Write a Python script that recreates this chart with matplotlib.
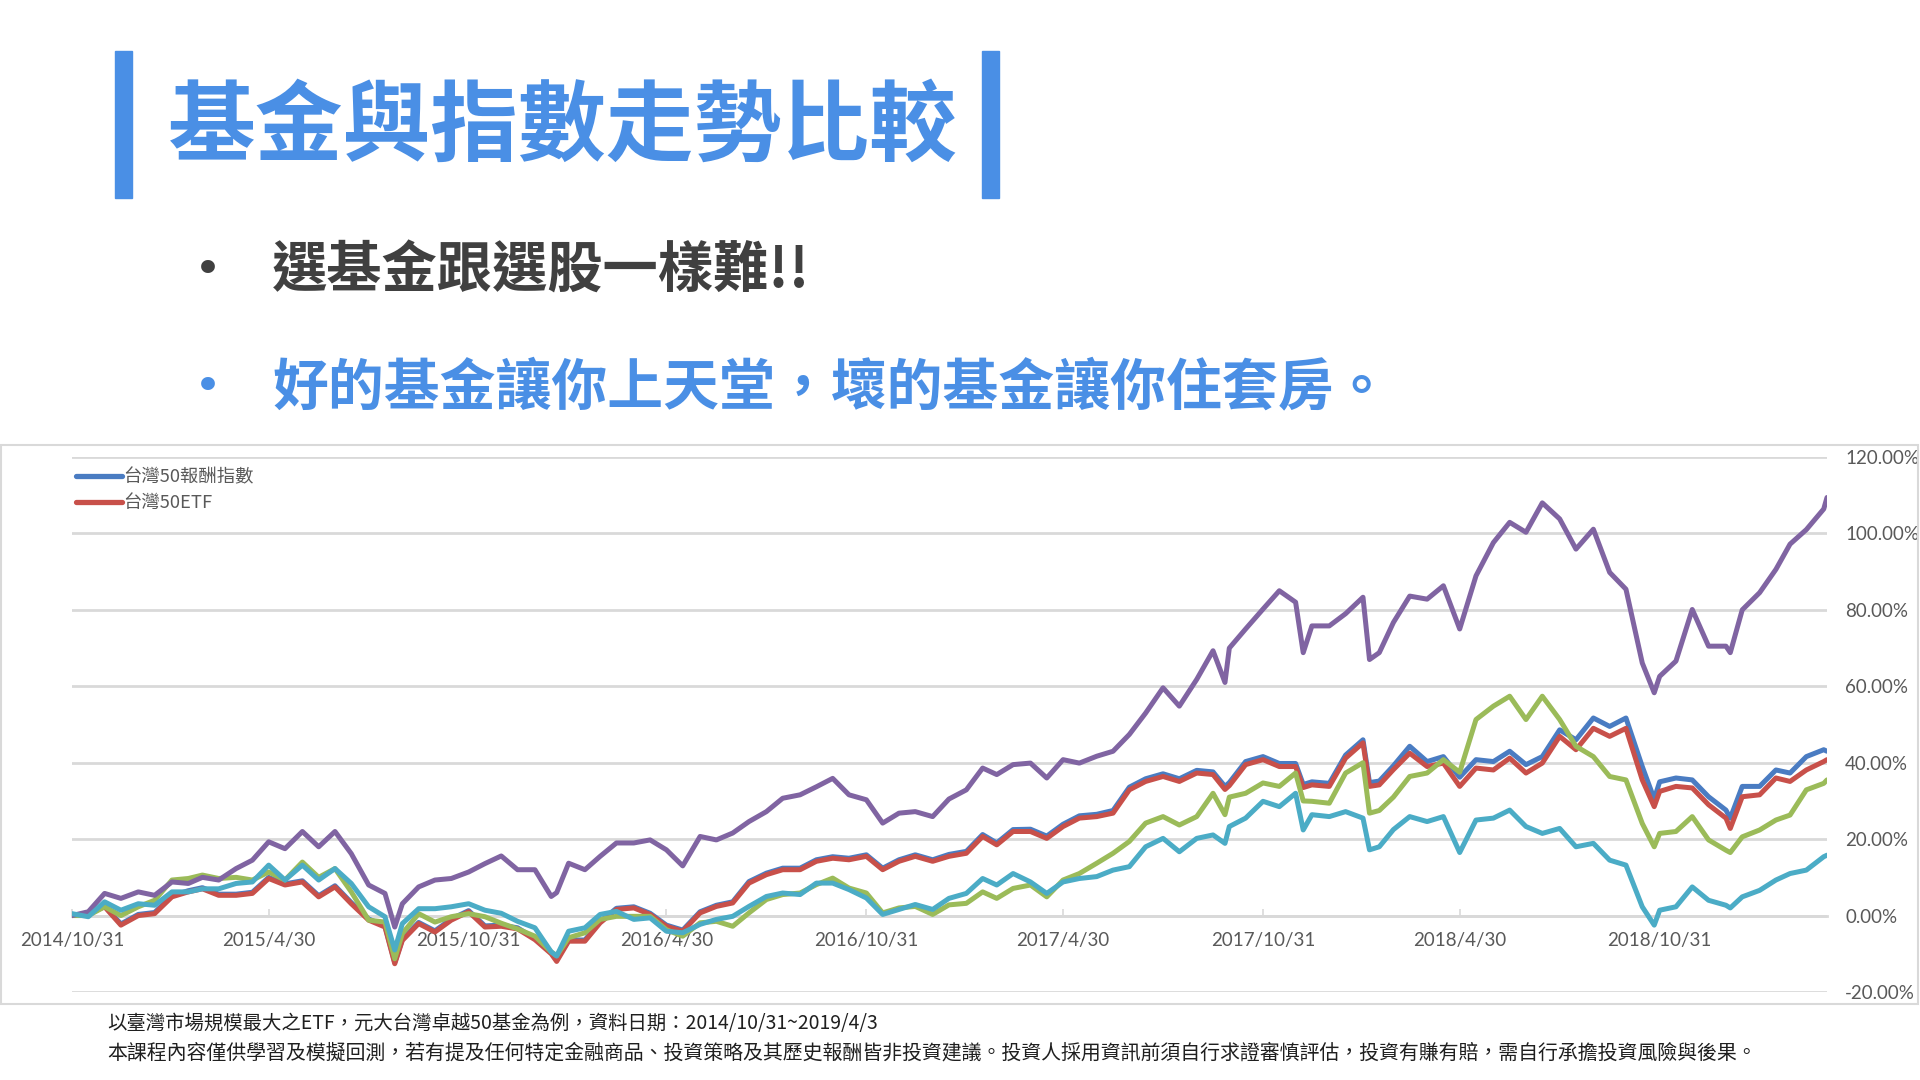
import matplotlib
matplotlib.use("Agg")
import matplotlib.pyplot as plt
from matplotlib.patches import Rectangle
from matplotlib.ticker import FuncFormatter
import pandas as pd

plt.rcParams['font.family'] = ['Noto Sans CJK TC', 'DejaVu Sans']

# ---- data: cumulative return (%) since 2014/10/31 ----
dates = [
    "2014-10-31", "2014-11-15", "2014-11-30", "2014-12-15", "2014-12-31",
    "2015-01-15", "2015-01-31", "2015-02-15", "2015-02-28", "2015-03-15", "2015-03-31",
    "2015-04-15", "2015-04-30", "2015-05-15", "2015-05-31", "2015-06-15", "2015-06-30",
    "2015-07-15", "2015-07-31", "2015-08-15", "2015-08-24", "2015-08-31", "2015-09-15", "2015-09-30",
    "2015-10-15", "2015-10-31", "2015-11-15", "2015-11-30", "2015-12-15", "2015-12-31",
    "2016-01-15", "2016-01-20", "2016-01-31", "2016-02-15", "2016-02-29", "2016-03-15", "2016-03-31",
    "2016-04-15", "2016-04-30", "2016-05-15", "2016-05-31", "2016-06-15", "2016-06-30",
    "2016-07-15", "2016-07-31", "2016-08-15", "2016-08-31", "2016-09-15", "2016-09-30",
    "2016-10-15", "2016-10-31", "2016-11-15", "2016-11-30", "2016-12-15", "2016-12-31",
    "2017-01-15", "2017-01-31", "2017-02-15", "2017-02-28", "2017-03-15", "2017-03-31",
    "2017-04-15", "2017-04-30", "2017-05-15", "2017-05-31", "2017-06-15", "2017-06-30",
    "2017-07-15", "2017-07-31", "2017-08-15", "2017-08-31", "2017-09-15", "2017-09-26", "2017-09-30",
    "2017-10-15", "2017-10-31", "2017-11-15", "2017-11-30", "2017-12-07", "2017-12-15", "2017-12-31",
    "2018-01-15", "2018-01-31", "2018-02-06", "2018-02-15", "2018-02-28", "2018-03-15", "2018-03-31",
    "2018-04-15", "2018-04-30", "2018-05-15", "2018-05-31", "2018-06-15", "2018-06-30",
    "2018-07-15", "2018-07-31", "2018-08-15", "2018-08-31", "2018-09-15", "2018-09-30",
    "2018-10-15", "2018-10-26", "2018-10-31", "2018-11-15", "2018-11-30", "2018-12-15", "2018-12-31",
    "2019-01-04", "2019-01-15", "2019-01-31", "2019-02-15", "2019-02-28", "2019-03-15", "2019-03-31", "2019-04-03",
]

tw50_index = [
    0, 0.6, 2.5, -2.2, 0.3,
    0.8, 5.2, 6.5, 7.3, 5.6, 5.6,
    6.1, 10, 8.3, 9.1, 5.2, 7.8,
    3.4, -0.9, -2.7, -12.3, -6.2, -1.8, -4,
    -0.9, 1.3, -2.7, -2.5, -3.2, -6,
    -9.7, -11.6, -6.4, -6.4, -1.6, 1.9, 2.3,
    0.6, -2.5, -3.8, 1, 2.7, 3.6,
    8.9, 11.1, 12.4, 12.4, 14.6, 15.4,
    15, 15.9, 12.4, 14.6, 15.9, 14.6,
    16, 16.8, 21.2, 19, 22.5, 22.6,
    20.8, 23.9, 26.1, 26.5, 27.5, 33.6,
    35.8, 37.1, 35.8, 38, 37.6, 33.8, 34.8,
    40.3, 41.6, 39.8, 39.8, 34.3, 35, 34.6,
    42, 46, 34.8, 35.2, 39.2, 44.3, 40.3,
    41.6, 36.2, 40.8, 40.3, 43, 39.5,
    41.6, 48.6, 46, 51.7, 49.5, 51.7,
    39, 30.5, 35, 36, 35.5, 31.1, 27.6,
    25.5, 33.8, 33.8, 38.1, 37.3, 41.6, 43.4, 43,
]

tw50_etf = [
    0, 0.5, 2.3, -2.5, 0,
    0.5, 4.9, 6.2, 7, 5.3, 5.3,
    5.8, 9.7, 8, 8.8, 4.9, 7.5,
    3.1, -1.2, -3, -12.6, -6.5, -2.1, -4.3,
    -1.2, 1, -3, -2.8, -3.5, -6.3,
    -10, -12, -6.7, -6.7, -1.9, 1.6, 2,
    0.3, -2.8, -4.1, 0.7, 2.4, 3.3,
    8.5, 10.7, 12, 12, 14.2, 15,
    14.6, 15.5, 12, 14.2, 15.5, 14.2,
    15.5, 16.3, 20.7, 18.5, 22, 22,
    20.2, 23.3, 25.5, 25.9, 26.8, 32.9,
    35.1, 36.4, 35.1, 37.3, 36.9, 33, 34,
    39.5, 40.8, 39, 39, 33.5, 34.2, 33.8,
    41.2, 45.2, 33.8, 34.2, 38.2, 42.5, 39,
    39.9, 33.8, 38.6, 38.1, 41.2, 37.3,
    39.9, 46.9, 43.4, 49, 46.9, 49,
    35.5, 28.5, 32.5, 33.8, 33.4, 29, 25.5,
    22.8, 31.1, 31.6, 36, 35.1, 38.1, 40.3, 40.8,
]

fund_green = [
    0, 0, 2.3, 0, 2.3,
    4, 9.3, 9.7, 10.6, 9.7, 10,
    9.3, 11.4, 9.3, 14, 10, 12.3,
    6.2, -1.2, -1.7, -11.3, -4.7, 0.5, -1.7,
    -0.3, 0.5, -0.3, -2, -3.5, -5.4,
    -9.5, -10.5, -5.8, -4.5, -1, -0.2, -0.2,
    -0.2, -3.7, -5.4, -1.9, -1.5, -2.8,
    0.7, 4.2, 5.5, 5.9, 8.1, 9.8,
    7.2, 5.9, 0.7, 2, 2.4, 0.3,
    2.8, 3.2, 6.2, 4.5, 7.1, 8,
    4.9, 9.3, 11, 13.7, 16.3, 19.4,
    24.2, 25.9, 23.7, 25.9, 32, 26.4, 31,
    32, 34.7, 33.8, 37.3, 30, 29.9, 29.4,
    37.3, 40, 26.8, 27.5, 31, 36.4, 37.3,
    40.8, 37.5, 51.3, 54.8, 57.4, 51.3,
    57.4, 51.3, 44.3, 41.6, 36.4, 35.5,
    24.1, 18, 21.5, 22, 25.9, 19.8, 17.1,
    16.5, 20.6, 22.4, 25, 26.3, 32.9, 34.6, 35.5,
]

fund_purple = [
    0, 1, 5.8, 4.5, 6.2,
    5.3, 8.8, 8.4, 10, 9.3, 12.3,
    14.5, 19.3, 17.5, 22, 18, 22,
    16.2, 8, 5.8, -3, 3.1, 7.5, 9.3,
    9.7, 11.4, 13.6, 15.6, 12, 12,
    5, 6, 13.7, 12, 15.5, 19, 19,
    19.8, 17.2, 13, 20.7, 19.8, 21.6,
    24.6, 27.2, 30.7, 31.6, 33.7, 35.9,
    31.6, 30.3, 24.2, 26.8, 27.2, 25.9,
    30.5, 32.9, 38.6, 36.9, 39.5, 39.9,
    36, 40.8, 39.9, 41.7, 43, 47.4,
    53, 59.6, 54.8, 61.8, 69.3, 61, 70,
    75, 80.2, 85, 82, 68.8, 75.8, 75.8,
    79, 83.3, 67, 68.8, 76.7, 83.6, 82.8,
    86.3, 75, 88.9, 97.6, 102.9, 100.3,
    108, 103.8, 95.9, 101.1, 89.8, 85.4,
    66.1, 58.3, 62.6, 66.6, 80.1, 70.5, 70.5,
    68.8, 80, 84.5, 90.6, 97.2, 101, 106.4, 109.4,
]

fund_cyan = [
    0.5, -0.3, 3.6, 1.4, 3.1,
    2.7, 6.2, 6.2, 7, 7, 8.4,
    8.8, 13.2, 9.3, 13.2, 9.3, 12.3,
    8.4, 2.3, -0.3, -9, -2.1, 1.8, 1.8,
    2.3, 3.1, 1.4, 0.6, -1.5, -3.2,
    -9.5, -10.6, -4.1, -3.2, 0.3, 1.1, -1,
    -0.6, -4.1, -4.5, -2.3, -1, -0.2,
    2.4, 5, 5.9, 5.5, 8.5, 8.5,
    6.8, 4.6, 0.3, 1.6, 2.9, 1.6,
    4.5, 5.8, 9.7, 8, 11, 8.8,
    5.8, 8.8, 9.7, 10.2, 11.9, 12.8,
    18, 20.2, 16.7, 20.2, 21.1, 18.9, 23.3,
    25.5, 29.9, 28.5, 32, 22.4, 26.4, 25.9,
    27.2, 25.5, 17.2, 18, 22.5, 25.9, 24.6,
    25.9, 16.5, 25, 25.5, 27.6, 23.3,
    21.5, 22.8, 18, 18.9, 14.5, 13.2,
    2.3, -2.5, 1.4, 2.3, 7.5, 4, 2.7,
    2, 4.9, 6.6, 9.3, 11, 11.9, 15.4, 15.8,
]

series_names = ["台灣50報酬指數", "台灣50ETF"]
tick_dates = ["2014-10-31", "2015-04-30", "2015-10-31", "2016-04-30", "2016-10-31",
              "2017-04-30", "2017-10-31", "2018-04-30", "2018-10-31"]
tick_labels = ["2014/10/31", "2015/4/30", "2015/10/31", "2016/4/30", "2016/10/31",
               "2017/4/30", "2017/10/31", "2018/4/30", "2018/10/31"]

title = "基金與指數走勢比較"
bullet_1 = "選基金跟選股一樣難!!"
bullet_2 = "好的基金讓你上天堂，壞的基金讓你住套房。"
note_1 = "以臺灣市場規模最大之ETF，元大台灣卓越50基金為例，資料日期：2014/10/31~2019/4/3"
note_2 = ("本課程內容僅供學習及模擬回測，若有提及任何特定金融商品、投資策略及其歷史報酬皆非投資建議。"
          "投資人採用資訊前須自行求證審慎評估，投資有賺有賠，需自行承擔投資風險與後果。")

# ---- styling ----
W, H = 1920, 1080
ACCENT = "#4A8FE5"
DARK = "#404040"
GRID = "#D9D9D9"
TICK_TXT = "#595959"
C_BLUE, C_RED, C_GREEN, C_PURPLE, C_CYAN = "#4A7CC2", "#C8504A", "#9BBB59", "#8064A2", "#4BACC6"
LW = 3.6

fig = plt.figure(figsize=(W / 100, H / 100), dpi=100)
fig.patch.set_facecolor("white")


def fx(px):
    return px / W


def fy(py):
    return 1 - py / H


# title bars and title
for x0 in (115, 982):
    fig.patches.append(Rectangle((fx(x0), fy(198)), fx(17), 147 / H,
                                 transform=fig.transFigure, color=ACCENT, zorder=2))
fig.text(fx(168), fy(128), title, fontsize=63.2, fontweight="bold", color=ACCENT,
         ha="left", va="center")

# bullets
fig.text(fx(208), fy(272), "•", fontsize=34, color=DARK, ha="center", va="center",
         family=["DejaVu Sans"])
fig.text(fx(272), fy(272), bullet_1, fontsize=39.8, fontweight="bold", color=DARK,
         ha="left", va="center")
fig.text(fx(208), fy(388), "•", fontsize=34, color=ACCENT, ha="center", va="center",
         family=["DejaVu Sans"])
fig.text(fx(272), fy(388), bullet_2, fontsize=40.2, fontweight="bold", color=ACCENT,
         ha="left", va="center")

# chart frame
fig.patches.append(Rectangle((fx(1), fy(1004)), fx(1917), (1004 - 445) / H,
                             transform=fig.transFigure, fill=False,
                             edgecolor=GRID, linewidth=1.5, zorder=1))

# plot area
ax = fig.add_axes([fx(72), fy(992), fx(1827 - 72), (992 - 457) / H])
ax.set_facecolor("none")

x = pd.to_datetime(dates)
line_kw = dict(lw=LW, solid_joinstyle="round", solid_capstyle="round")
l_blue, = ax.plot(x, tw50_index, color=C_BLUE, zorder=3, **line_kw)
l_red, = ax.plot(x, tw50_etf, color=C_RED, zorder=4, **line_kw)
ax.plot(x, fund_green, color=C_GREEN, zorder=5, **line_kw)
ax.plot(x, fund_purple, color=C_PURPLE, zorder=6, **line_kw)
ax.plot(x, fund_cyan, color=C_CYAN, zorder=7, **line_kw)

ax.set_xlim(pd.Timestamp("2014-10-31"), pd.Timestamp("2019-04-03"))
ax.set_ylim(-20, 120)
ax.set_yticks(range(-20, 121, 20))
ax.yaxis.set_major_formatter(FuncFormatter(lambda v, p: f"{v:.2f}%"))
ax.yaxis.tick_right()
ax.tick_params(axis="y", length=0, pad=13, labelsize=13.5, labelcolor=TICK_TXT,
               labelfontfamily="Lato")
ax.grid(axis="y", color=GRID, linewidth=2.0, zorder=0)
ax.set_axisbelow(True)

for side in ("top", "left", "right"):
    ax.spines[side].set_visible(False)
ax.spines["bottom"].set_position(("data", 0))
ax.spines["bottom"].set_color(GRID)
ax.spines["bottom"].set_linewidth(2.0)

ax.set_xticks(pd.to_datetime(tick_dates))
ax.set_xticklabels(tick_labels)
ax.tick_params(axis="x", direction="in", length=5, width=1.2, color=GRID, pad=12,
               labelsize=13.5, labelcolor=TICK_TXT, labelfontfamily="Lato")

leg = ax.legend([l_blue, l_red], series_names, loc="upper left",
                bbox_to_anchor=(fx(76), fy(468)), bbox_transform=fig.transFigure,
                frameon=False, borderpad=0, borderaxespad=0, handlelength=2.5,
                handletextpad=0.1, labelspacing=0.45, prop={"size": 13.2})
for t in leg.get_texts():
    t.set_color(TICK_TXT)
for h in leg.get_lines():
    h.set_linewidth(3.8)

# footnotes
fig.text(fx(107), fy(1024), note_1, fontsize=13.95, color="#1F1F1F", ha="left", va="center")
fig.text(fx(107), fy(1053), note_2, fontsize=14.35, color="#1F1F1F", ha="left", va="center")

fig.savefig("out.png", dpi=100, facecolor="white")
